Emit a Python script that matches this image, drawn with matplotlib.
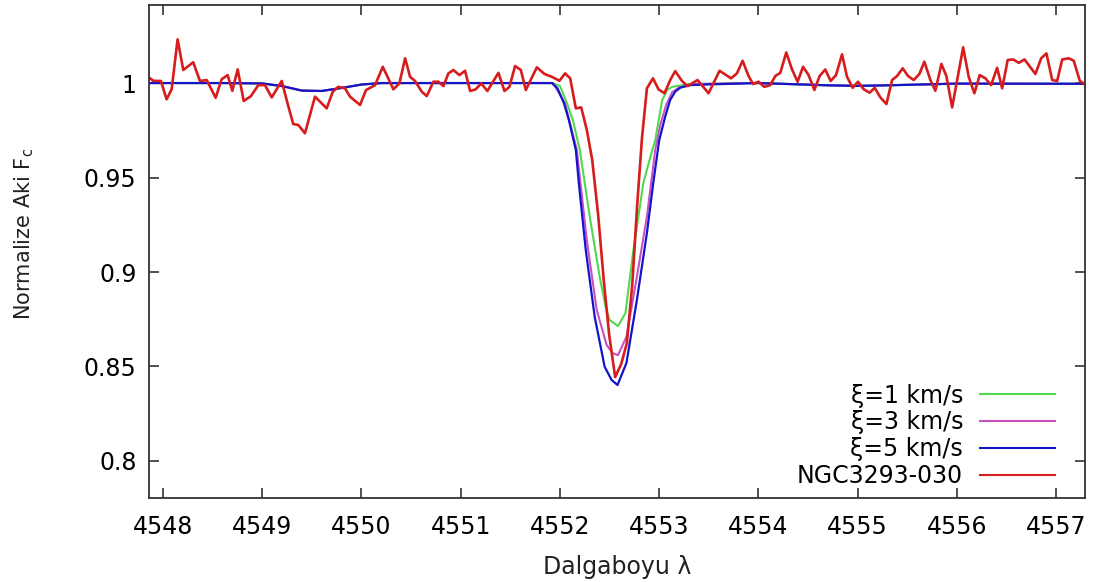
import matplotlib
matplotlib.use("Agg")
import matplotlib.pyplot as plt
from matplotlib.ticker import FuncFormatter

# Gözlenen spektrum: NGC3293-030 (dalgaboyu, normalize akı)
obs_wave = [
    4547.852, 4547.902, 4547.980, 4548.037, 4548.088, 4548.148, 4548.205, 4548.305,
    4548.373, 4548.441, 4548.531, 4548.592, 4548.652, 4548.699, 4548.753, 4548.814,
    4548.887, 4548.961, 4549.028, 4549.096, 4549.197, 4549.263, 4549.313, 4549.364,
    4549.431, 4549.532, 4549.650, 4549.711, 4549.767, 4549.835, 4549.885, 4549.986,
    4550.046, 4550.137, 4550.215, 4550.322, 4550.382, 4550.440, 4550.490, 4550.540,
    4550.608, 4550.658, 4550.725, 4550.775, 4550.826, 4550.876, 4550.926, 4550.987,
    4551.044, 4551.095, 4551.152, 4551.206, 4551.269, 4551.380, 4551.441, 4551.491,
    4551.548, 4551.606, 4551.656, 4551.767, 4551.844, 4551.918, 4551.995, 4552.052,
    4552.103, 4552.160, 4552.214, 4552.271, 4552.325, 4552.385, 4552.441, 4552.496,
    4552.556, 4552.617, 4552.674, 4552.728, 4552.778, 4552.826, 4552.876, 4552.937,
    4552.993, 4553.053, 4553.111, 4553.161, 4553.229, 4553.285, 4553.386, 4553.497,
    4553.608, 4553.723, 4553.783, 4553.840, 4553.900, 4553.945, 4554.001, 4554.058,
    4554.119, 4554.169, 4554.220, 4554.280, 4554.338, 4554.394, 4554.449, 4554.505,
    4554.563, 4554.616, 4554.673, 4554.727, 4554.781, 4554.842, 4554.892, 4554.949,
    4555.003, 4555.060, 4555.120, 4555.171, 4555.228, 4555.289, 4555.346, 4555.396,
    4555.453, 4555.507, 4555.564, 4555.621, 4555.671, 4555.732, 4555.782, 4555.843,
    4555.893, 4555.951, 4556.062, 4556.118, 4556.175, 4556.229, 4556.286, 4556.344,
    4556.404, 4556.455, 4556.511, 4556.566, 4556.622, 4556.680, 4556.790, 4556.848,
    4556.901, 4556.959, 4557.009, 4557.060, 4557.126, 4557.176, 4557.237, 4557.294,
]
obs_flux = [
    1.0033, 1.0012, 1.0011, 0.9914, 0.9967, 1.0231, 1.0069, 1.0110,
    1.0011, 1.0016, 0.9922, 1.0020, 1.0042, 0.9959, 1.0072, 0.9905,
    0.9931, 0.9989, 0.9989, 0.9924, 1.0011, 0.9878, 0.9783, 0.9778,
    0.9734, 0.9928, 0.9866, 0.9954, 0.9980, 0.9972, 0.9928, 0.9884,
    0.9963, 0.9989, 1.0086, 0.9967, 0.9998, 1.0131, 1.0033, 1.0011,
    0.9954, 0.9931, 1.0007, 1.0007, 0.9984, 1.0051, 1.0069, 1.0042,
    1.0065, 0.9958, 0.9967, 0.9998, 0.9958, 1.0054, 0.9958, 0.9980,
    1.0090, 1.0069, 0.9963, 1.0083, 1.0048, 1.0033, 1.0012, 1.0051,
    1.0025, 0.9866, 0.9871, 0.9751, 0.9593, 0.9302, 0.8958, 0.8667,
    0.8444, 0.8513, 0.8624, 0.8931, 0.9354, 0.9707, 0.9972, 1.0025,
    0.9967, 0.9946, 1.0016, 1.0063, 1.0011, 0.9984, 1.0016, 0.9946,
    1.0065, 1.0025, 1.0051, 1.0118, 1.0037, 0.9995, 1.0007, 0.9980,
    0.9989, 1.0037, 1.0054, 1.0162, 1.0072, 1.0007, 1.0086, 1.0042,
    0.9963, 1.0037, 1.0072, 1.0011, 1.0042, 1.0152, 1.0033, 0.9975,
    1.0007, 0.9967, 0.9949, 0.9975, 0.9924, 0.9889, 1.0016, 1.0037,
    1.0078, 1.0037, 1.0016, 1.0048, 1.0113, 1.0016, 0.9959, 1.0101,
    1.0037, 0.9871, 1.0189, 1.0033, 0.9946, 1.0042, 1.0025, 0.9989,
    1.0081, 0.9972, 1.0122, 1.0125, 1.0107, 1.0125, 1.0048, 1.0131,
    1.0157, 1.0016, 1.0011, 1.0125, 1.0131, 1.0118, 1.0012, 0.9989,
]

# Sentetik profiller (xi = 1, 3, 5 km/s)
xi1_wave = [4547.85, 4548.60, 4549.00, 4549.20, 4549.40, 4549.60, 4549.80, 4550.00,
            4550.20, 4551.92, 4552.00, 4552.07, 4552.13, 4552.20, 4552.30,
            4552.40, 4552.46, 4552.50, 4552.585, 4552.66, 4552.74, 4552.84, 4552.93,
            4552.96, 4553.03, 4553.08, 4553.13, 4553.31, 4554.00,
            4554.70, 4555.00, 4555.30, 4556.00, 4557.30]
xi1_flux = [1.0, 1.0, 0.9998, 0.9984, 0.9960, 0.9958, 0.9974, 0.9992,
            1.0, 1.0, 0.9984, 0.9894, 0.9804, 0.9646, 0.9293,
            0.8975, 0.8816, 0.8746, 0.8714, 0.8783, 0.9116, 0.9471, 0.9646,
            0.9698, 0.9910, 0.9963, 0.9980, 0.9995, 1.0,
            0.9988, 0.9985, 0.9988, 0.9997, 0.9996]

xi3_wave = [4547.85, 4548.60, 4549.00, 4549.20, 4549.40, 4549.60, 4549.80, 4550.00,
            4550.20, 4551.93, 4552.05, 4552.17, 4552.27, 4552.37, 4552.47,
            4552.53, 4552.585, 4552.67, 4552.775, 4552.876, 4552.96, 4553.01, 4553.07,
            4553.13, 4553.21, 4553.36, 4554.00,
            4554.70, 4555.00, 4555.30, 4556.00, 4557.30]
xi3_flux = [1.0, 1.0, 0.9998, 0.9984, 0.9960, 0.9958, 0.9974, 0.9992,
            1.0, 1.0, 0.9894, 0.9646, 0.9170, 0.8800, 0.8614,
            0.8571, 0.8560, 0.8658, 0.8975, 0.9293, 0.9646, 0.9778, 0.9884,
            0.9952, 0.9979, 0.9995, 1.0,
            0.9988, 0.9985, 0.9988, 0.9997, 0.9996]

xi5_wave = [4547.85, 4548.60, 4549.00, 4549.20, 4549.40, 4549.60, 4549.80, 4550.00,
            4550.20, 4551.92, 4551.975, 4552.04, 4552.09, 4552.16, 4552.19, 4552.26,
            4552.35, 4552.45, 4552.52, 4552.58, 4552.67, 4552.775, 4552.876, 4552.94,
            4553.00, 4553.06, 4553.11, 4553.16, 4553.21, 4553.31, 4553.51, 4554.00,
            4554.70, 4555.00, 4555.30, 4556.00, 4557.30]
xi5_flux = [1.0, 1.0, 0.9998, 0.9984, 0.9960, 0.9958, 0.9974, 0.9992,
            1.0, 1.0, 0.9972, 0.9894, 0.9804, 0.9646, 0.9471, 0.9116,
            0.8763, 0.8499, 0.8429, 0.8402, 0.8519, 0.8852, 0.9206, 0.9471,
            0.9698, 0.9822, 0.9910, 0.9954, 0.9975, 0.9989, 0.9993, 1.0,
            0.9988, 0.9985, 0.9988, 0.9997, 0.9996]

x_ticks = [4548, 4549, 4550, 4551, 4552, 4553, 4554, 4555, 4556, 4557]
y_ticks = [0.8, 0.85, 0.9, 0.95, 1.0]

plt.rcParams['font.family'] = ['DejaVu Sans']

fig = plt.figure(figsize=(10.99, 5.82), dpi=100)
ax = fig.add_axes([0.1356, 0.1443, 0.8517, 0.8471])

ax.plot(xi1_wave, xi1_flux, color='#4fd94f', lw=1.5, label='ξ=1 km/s')
ax.plot(xi3_wave, xi3_flux, color='#c452c4', lw=1.5, label='ξ=3 km/s')
ax.plot(xi5_wave, xi5_flux, color='#1414c8', lw=1.6, label='ξ=5 km/s')
ax.plot(obs_wave, obs_flux, color='#d61c1c', lw=1.9, label='NGC3293-030')

ax.set_xlim(4547.86, 4557.29)
ax.set_ylim(0.7804, 1.0413)
ax.set_xticks(x_ticks)
ax.set_yticks(y_ticks)
ax.xaxis.set_major_formatter(FuncFormatter(lambda v, _: f'{v:.0f}'))
ax.yaxis.set_major_formatter(FuncFormatter(lambda v, _: f'{v:g}'))

for s in ax.spines.values():
    s.set_color('#333333')
    s.set_linewidth(1.3)
ax.tick_params(axis='both', which='major', direction='in', length=7.5, width=1.2,
               color='#333333', top=True, right=True, labelsize=17)
ax.tick_params(axis='x', pad=12)
ax.tick_params(axis='y', pad=9)

ax.set_xlabel('Dalgaboyu λ', fontsize=17, color='#222222', labelpad=12)
ax.set_ylabel(r'Normalize Aki F$_{\mathregular{c}}$', fontsize=15, color='#222222')
ax.yaxis.set_label_coords(-0.121, 0.535)

leg = ax.legend(loc='lower right', bbox_to_anchor=(0.968, 0.02), frameon=False,
                markerfirst=False, fontsize=17, handlelength=3.2, handletextpad=0.7,
                labelspacing=0.12, borderpad=0, borderaxespad=0)
for line in leg.get_lines():
    line.set_linewidth(1.5)

fig.savefig('out.png', dpi=100, facecolor='white')
